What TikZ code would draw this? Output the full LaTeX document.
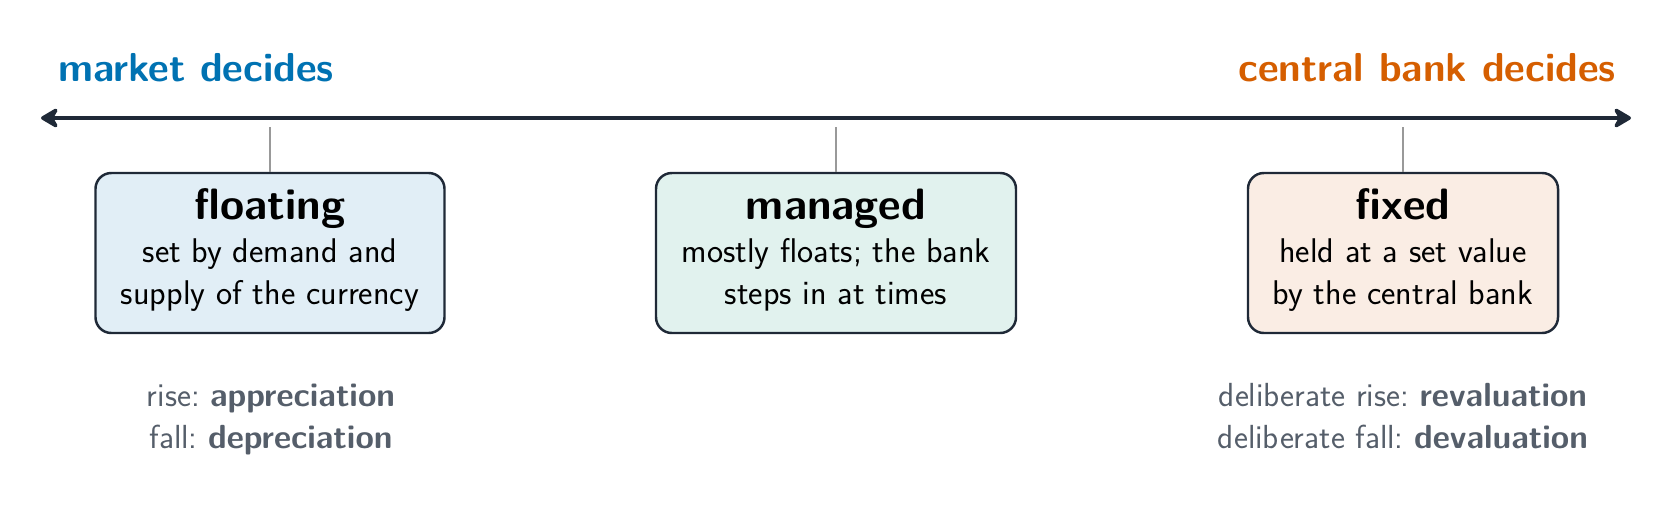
\documentclass[tikz,border=0pt]{standalone}
\usetikzlibrary{arrows.meta}
\begin{document}
\sffamily
\definecolor{ink}{HTML}{1F2937}
\definecolor{mblue}{HTML}{0072B2}
\definecolor{morange}{HTML}{D55E00}
\definecolor{fblue}{HTML}{E1EEF6}
\definecolor{fgreen}{HTML}{E1F2EE}
\definecolor{forange}{HTML}{FAEDE4}
\definecolor{gtext}{HTML}{555E6A}
\begin{tikzpicture}[x=0.02cm,y=-0.02cm,
  box/.style={draw=ink,line width=1.4pt,rounded corners=9pt,inner sep=0pt,align=center},
  tick/.style={draw=gray!80,line width=0.9pt},
  lab/.style={font=\fontsize{23}{28}\selectfont\bfseries},
  note/.style={text=gtext,align=center,font=\fontsize{19}{23.5}\selectfont}]
\useasboundingbox (0,0) rectangle (1676,508);
\coordinate (L) at (41,118);
\coordinate (R) at (1631,118);
\draw[ink,line width=2.2pt,{Stealth[length=12pt,width=14pt,inset=4pt,round]}-{Stealth[length=12pt,width=14pt,inset=4pt,round]}] (L) -- (R);
\node[lab,text=mblue,anchor=base west] (md) at (52,81) {market decides};
\node[lab,text=morange,anchor=base east] (cb) at (1622,81) {central bank decides};
\newcommand{\bx}[6]{%
 \node[box,fill=#4,minimum width=#3*0.02cm,minimum height=160*0.02cm] (#1) at (#2,253) {};
 \node[anchor=base,font=\fontsize{25}{30}\selectfont\bfseries] (#1t) at (#2,219) {#5};
 \node[anchor=base,align=center,font=\fontsize{19.5}{23.5}\selectfont] (#1s) at (#2,304) {#6};
 \coordinate (#1k) at (#2,127);
 \draw[tick] (#1k) -- (#1.north);}
\bx{fl}{270}{349}{fblue}{floating}{set by demand and\\supply of the currency}
\bx{mg}{836}{360}{fgreen}{managed}{mostly floats; the bank\\steps in at times}
\bx{fx}{1403}{310}{forange}{fixed}{held at a set value\\by the central bank}
\node[note,anchor=base] (n1) at (271,448) {rise:\ \textbf{appreciation}\\fall:\ \textbf{depreciation}};
\node[note,anchor=base] (n2) at (1403,448) {deliberate rise:\ \textbf{revaluation}\\deliberate fall:\ \textbf{devaluation}};
\end{tikzpicture}
\end{document}
